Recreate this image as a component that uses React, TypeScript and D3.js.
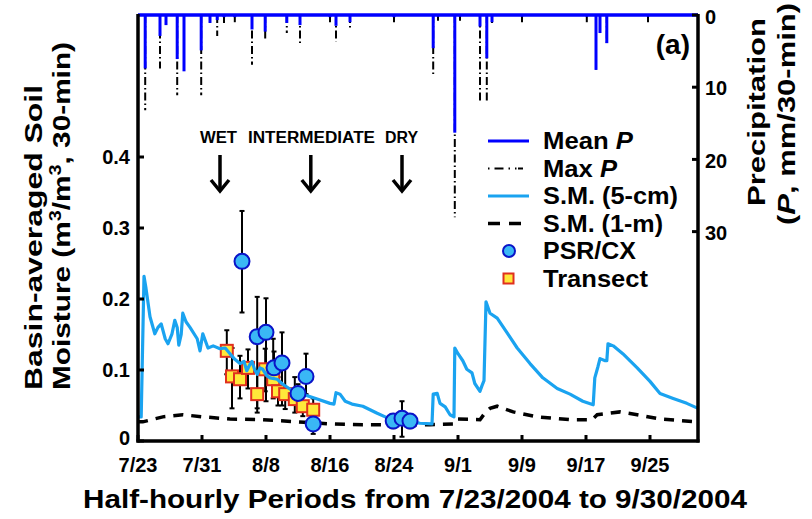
import React from 'react';
import * as d3 from 'd3';

const W = 812;
const H = 519;
const FONT = '"Liberation Sans", Arial, Helvetica, sans-serif';
const DAY = 86400000;
const T0 = new Date(Date.UTC(2004, 6, 23));
const T1 = new Date(Date.UTC(2004, 9, 1));

// Soil moisture, 5-cm: [days since 7/23 00:00, m3/m3]
const sm5cm: [number, number][] = [
  [0, 0.034], [0.4, 0.034], [0.75, 0.232], [1.0, 0.215], [1.5, 0.175], [2.1, 0.151], [2.5, 0.16],
  [2.9, 0.165], [3.4, 0.144], [3.75, 0.137], [4.25, 0.151], [4.6, 0.17], [4.9, 0.16], [5.1, 0.135],
  [5.4, 0.15], [5.6, 0.18], [6.0, 0.168], [6.5, 0.16], [7.4, 0.144], [7.75, 0.127], [8.1, 0.151],
  [8.75, 0.131], [9.4, 0.134], [10.25, 0.13], [10.9, 0.131], [11.5, 0.123], [12.1, 0.115],
  [12.75, 0.109], [13.25, 0.112], [13.6, 0.099], [14.0, 0.108], [14.25, 0.112], [14.6, 0.1],
  [14.9, 0.094], [15.25, 0.103], [15.6, 0.101], [16.1, 0.092], [16.5, 0.089], [17.4, 0.087],
  [18.1, 0.08], [19.4, 0.07], [20.6, 0.066], [22.4, 0.059], [24.0, 0.053], [24.5, 0.052],
  [24.75, 0.068], [25.25, 0.066], [25.9, 0.056], [26.75, 0.052], [28.1, 0.049], [29.0, 0.044],
  [29.9, 0.039], [30.9, 0.034], [31.5, 0.031], [32.75, 0.029], [34.4, 0.027], [35.25, 0.025],
  [36.75, 0.024], [36.9, 0.066], [37.4, 0.067], [37.75, 0.053], [38.4, 0.048], [39.0, 0.037],
  [39.5, 0.034], [39.6, 0.131], [40.0, 0.123], [40.6, 0.113], [41.1, 0.101], [41.75, 0.096],
  [42.1, 0.081], [42.75, 0.07], [43.0, 0.078], [43.25, 0.085], [43.5, 0.196], [44.0, 0.18],
  [44.9, 0.173], [46.1, 0.153], [47.4, 0.131], [49.0, 0.109], [50.6, 0.089], [52.4, 0.074],
  [54.0, 0.066], [55.6, 0.056], [56.9, 0.051], [57.1, 0.089], [57.5, 0.105], [57.75, 0.116],
  [58.4, 0.113], [58.6, 0.113], [58.75, 0.137], [59.4, 0.134], [60.6, 0.123], [62.4, 0.103],
  [64.0, 0.084], [65.25, 0.067], [66.9, 0.06], [68.6, 0.053], [70, 0.046],
];

// Soil moisture, 1-m
const sm1m: [number, number][] = [
  [0, 0.027], [0.6, 0.027], [3.1, 0.034], [5.6, 0.037], [8.1, 0.034], [11.5, 0.031], [15.6, 0.03],
  [19.9, 0.027], [24, 0.024], [28.1, 0.023], [36.5, 0.023], [39.4, 0.024], [39.75, 0.031],
  [42.75, 0.03], [43.4, 0.04], [44, 0.046], [44.9, 0.049], [46.9, 0.041], [49.9, 0.034],
  [54, 0.03], [56.75, 0.03], [57.4, 0.037], [60.25, 0.041], [62.4, 0.037], [65.25, 0.031],
  [70, 0.027],
];

// PSR/CX: [day, mean, low, high]
const psrcx: [number, number, number, number][] = [
  [13.0, 0.253, 0.181, 0.324], [14.9, 0.147, 0.046, 0.203], [16.0, 0.153, 0.056, 0.201],
  [17.0, 0.103, 0.08, 0.126], [18.0, 0.11, 0.05, 0.153], [20.0, 0.067, 0.055, 0.08],
  [21.0, 0.091, 0.066, 0.123], [21.9, 0.024, 0.01, 0.035], [31.9, 0.028, 0.018, 0.038],
  [33.0, 0.032, 0.006, 0.056], [34.0, 0.028, 0.018, 0.036],
];

// Transect: [day, mean, low, high]
const transect: [number, number, number, number][] = [
  [11.1, 0.127, 0.094, 0.156], [11.75, 0.091, 0.046, 0.131], [12.75, 0.087, 0.06, 0.12],
  [13.75, 0.103, 0.074, 0.129], [14.9, 0.066, 0.04, 0.1], [15.9, 0.101, 0.07, 0.13],
  [16.9, 0.087, 0.06, 0.144], [17.5, 0.07, 0.05, 0.09], [18.4, 0.066, 0.045, 0.11],
  [19.6, 0.059, 0.04, 0.09], [20.6, 0.049, 0.035, 0.065], [21.9, 0.044, 0.03, 0.06],
];

// Precipitation: [day, mean P, max P] (mm / 30-min)
const precip: [number, number, number][] = [
  [0.9, 7.4, 13.2], [2.75, 2.9, 7.4], [3.5, 1.4, 1.4], [4.9, 6.1, 11.1], [5.75, 7.8, 7.8],
  [7.9, 4.9, 11.1], [9.0, 1.1, 1.1], [9.9, 0.7, 2.9], [10.75, 0.3, 1.5], [12.1, 0.3, 1.0],
  [14.25, 2.0, 6.9], [15.9, 2.3, 3.5], [18.6, 1.1, 2.5], [20.25, 1.4, 3.9], [24.0, 0.3, 1.0],
  [24.75, 1.5, 3.7], [26.5, 1.0, 1.8], [32.0, 0.3, 1.0], [36.9, 4.6, 8.5], [37.5, 0.2, 0.8],
  [39.6, 16.3, 28], [40.25, 0.2, 0.8], [42.75, 1.6, 12], [43.6, 6.0, 12.2], [44.25, 1.0, 1.5],
  [48.0, 0.2, 1.0], [56.1, 0.2, 1.0], [57.25, 7.6, 7.6], [57.75, 2.5, 2.5], [58.6, 3.9, 3.9],
  [63.75, 0.2, 1.0],
];

const smTicks = [0, 0.1, 0.2, 0.3, 0.4];
const smTickLabels = ['0', '0.1', '0.2', '0.3', '0.4'];
const pTicks = [0, 10, 20, 30];
const xTickDays = [0, 8, 16, 24, 32, 40, 48, 56, 64];
const phaseLabels = ['WET', 'INTERMEDIATE', 'DRY'];
const phaseArrowDays = [10.25, 21.6, 33];

const legendItems = [
  { label: 'Mean ', ital: 'P', kind: 'meanP', len: 90 },
  { label: 'Max ', ital: 'P', kind: 'maxP', len: 74 },
  { label: 'S.M. (5-cm)', ital: '', kind: 'sm5', len: 135 },
  { label: 'S.M. (1-m)', ital: '', kind: 'sm1', len: 120 },
  { label: 'PSR/CX', ital: '', kind: 'psr', len: 93 },
  { label: 'Transect', ital: '', kind: 'tr', len: 105 },
];

const BLUE = '#0000ff';
const SMBLUE = '#1aa3f0';
const CIRC_FILL = '#3ab8f5';
const CIRC_STROKE = '#0a14c8';
const SQ_FILL = '#ffe83a';
const SQ_STROKE = '#e0301e';

export default function App() {
  const L = 138, R = 698, T = 15, B = 441;
  const x = d3.scaleUtc().domain([T0, T1]).range([L, R]);
  const xd = (d: number) => x(new Date(T0.getTime() + d * DAY));
  const y = d3.scaleLinear().domain([0, 0.6]).range([B, T]);
  const yp = d3.scaleLinear().domain([0, 59]).range([T, B]);
  const fmt = d3.utcFormat('%-m/%-d');

  const line = d3.line<[number, number]>().x((d) => xd(d[0])).y((d) => y(d[1]));

  const legX0 = 488, legX1 = 529, legTx = 543, legY0 = 141, legDy = 27.5;

  return (
    <svg width={W} height={H} style={{ position: 'absolute', left: 0, top: 0, background: '#fff' }}
      fontFamily={FONT} fontWeight="bold">
      {/* precipitation */}
      {precip.map((p, i) => (
        <line key={'mx' + i} x1={xd(p[0])} x2={xd(p[0])} y1={yp(0)} y2={yp(p[2])}
          stroke="#000" strokeWidth={2} strokeDasharray="8,3,1.5,3" />
      ))}
      {precip.map((p, i) => (
        <line key={'mn' + i} x1={xd(p[0])} x2={xd(p[0])} y1={yp(0)} y2={yp(p[1])}
          stroke={BLUE} strokeWidth={3} />
      ))}

      {/* soil moisture */}
      <path d={line(sm1m) || ''} fill="none" stroke="#000" strokeWidth={3.5} strokeDasharray="10,8" />

      {/* error bars */}
      {[...transect, ...psrcx].map((p, i) => (
        <g key={'eb' + i} stroke="#000" strokeWidth={2}>
          <line x1={xd(p[0])} x2={xd(p[0])} y1={y(p[2])} y2={y(p[3])} />
          <line x1={xd(p[0]) - 2.5} x2={xd(p[0]) + 2.5} y1={y(p[2])} y2={y(p[2])} />
          <line x1={xd(p[0]) - 2.5} x2={xd(p[0]) + 2.5} y1={y(p[3])} y2={y(p[3])} />
        </g>
      ))}
      {transect.map((p, i) => (
        <rect key={'sq' + i} x={xd(p[0]) - 6} y={y(p[1]) - 6} width={12} height={12}
          fill={SQ_FILL} stroke={SQ_STROKE} strokeWidth={2} />
      ))}
      <path d={line(sm5cm) || ''} fill="none" stroke={SMBLUE} strokeWidth={3.2} strokeLinejoin="round" />
      {psrcx.map((p, i) => (
        <circle key={'c' + i} cx={xd(p[0])} cy={y(p[1])} r={7.5}
          fill={CIRC_FILL} stroke={CIRC_STROKE} strokeWidth={2} />
      ))}

      {/* top precipitation baseline */}
      <line x1={L} x2={R} y1={yp(0)} y2={yp(0)} stroke={BLUE} strokeWidth={3.5} />

      {/* axes frame */}
      <line x1={L} x2={L} y1={T - 1} y2={B + 1.5} stroke="#000" strokeWidth={3.5} />
      <line x1={R} x2={R} y1={T - 1} y2={B + 1.5} stroke="#000" strokeWidth={3.5} />
      <line x1={L - 1.5} x2={R + 1.5} y1={B} y2={B} stroke="#000" strokeWidth={3.5} />

      {/* left ticks */}
      {smTicks.map((t, i) => (
        <g key={'lt' + i}>
          <line x1={L} x2={L + 6} y1={y(t)} y2={y(t)} stroke="#000" strokeWidth={3} />
          <text x={130} y={y(t)} dy={t === 0 ? '0.2em' : '0.36em'} textAnchor="end" fontSize={20}>{smTickLabels[i]}</text>
        </g>
      ))}
      {/* right ticks */}
      {pTicks.map((t, i) => (
        <g key={'rt' + i}>
          <line x1={R - 6} x2={R} y1={yp(t)} y2={yp(t)} stroke="#000" strokeWidth={3} />
          <text x={705} y={yp(t) + (t === 0 ? 2 : 1)} dy="0.36em" textAnchor="start" fontSize={20}>{t}</text>
        </g>
      ))}
      {/* bottom ticks */}
      {xTickDays.map((d, i) => (
        <g key={'bt' + i}>
          <line x1={xd(d)} x2={xd(d)} y1={B} y2={B - 6} stroke="#000" strokeWidth={3} />
          <text x={xd(d)} y={472} textAnchor="middle" fontSize={20}>{fmt(new Date(T0.getTime() + d * DAY))}</text>
        </g>
      ))}

      {/* axis titles */}
      <text x={83} y={508} fontSize={25} textLength={664} lengthAdjust="spacingAndGlyphs">
        Half-hourly Periods from 7/23/2004 to 9/30/2004
      </text>
      <text transform="translate(42,390) rotate(-90)" fontSize={24} textLength={305} lengthAdjust="spacingAndGlyphs">
        Basin-averaged Soil
      </text>
      <text transform="translate(70,390) rotate(-90)" fontSize={24} textLength={348} lengthAdjust="spacingAndGlyphs">
        <tspan>Moisture (m</tspan>
        <tspan dy={-9} fontSize={16}>3</tspan>
        <tspan dy={9}>/m</tspan>
        <tspan dy={-9} fontSize={16}>3</tspan>
        <tspan dy={9}>, 30-min)</tspan>
      </text>
      <text transform="translate(765,112) rotate(-90)" fontSize={24} textAnchor="middle" textLength={188} lengthAdjust="spacingAndGlyphs">
        Precipitation
      </text>
      <text transform="translate(795,114) rotate(-90)" fontSize={24} textAnchor="middle" textLength={222} lengthAdjust="spacingAndGlyphs">
        <tspan>(</tspan><tspan fontStyle="italic">P</tspan><tspan>, mm/30-min)</tspan>
      </text>

      {/* panel label */}
      <text x={690} y={54} textAnchor="end" fontSize={28}>(a)</text>

      {/* phase annotations */}
      <text x={200} y={143} fontSize={16} textLength={37} lengthAdjust="spacingAndGlyphs">{phaseLabels[0]}</text>
      <text x={248} y={143} fontSize={16} textLength={127} lengthAdjust="spacingAndGlyphs">{phaseLabels[1]}</text>
      <text x={385} y={143} fontSize={16} textLength={33} lengthAdjust="spacingAndGlyphs">{phaseLabels[2]}</text>
      {phaseArrowDays.map((d, i) => (
        <g key={'ar' + i} stroke="#000" strokeWidth={3.5} fill="none">
          <line x1={xd(d)} x2={xd(d)} y1={155} y2={190} />
          <polyline points={`${xd(d) - 9},${180} ${xd(d)},${191} ${xd(d) + 9},${180}`} strokeLinejoin="miter" />
        </g>
      ))}

      {/* legend */}
      {legendItems.map((it, i) => {
        const cy = legY0 + i * legDy;
        const mid = (legX0 + legX1) / 2;
        let glyph: React.ReactNode = null;
        if (it.kind === 'meanP') glyph = <line x1={legX0} x2={legX1} y1={cy} y2={cy} stroke={BLUE} strokeWidth={3} />;
        else if (it.kind === 'maxP') glyph = <line x1={legX0} x2={legX1} y1={cy} y2={cy} stroke="#000" strokeWidth={2} strokeDasharray="1.5,5,9,5,1.5,5,1.5" />;
        else if (it.kind === 'sm5') glyph = <line x1={legX0} x2={legX1} y1={cy} y2={cy} stroke={SMBLUE} strokeWidth={3} />;
        else if (it.kind === 'sm1') glyph = <line x1={legX0} x2={legX1} y1={cy} y2={cy} stroke="#000" strokeWidth={3.5} strokeDasharray="12,9" />;
        else if (it.kind === 'psr') glyph = <circle cx={mid + 0.5} cy={cy} r={6} fill={CIRC_FILL} stroke={CIRC_STROKE} strokeWidth={2} />;
        else glyph = <rect x={mid - 5} y={cy - 5} width={10} height={10} fill={SQ_FILL} stroke={SQ_STROKE} strokeWidth={2} />;
        return (
          <g key={'lg' + i}>
            {glyph}
            <text x={legTx} y={cy + 8} fontSize={23} textLength={it.len} lengthAdjust="spacingAndGlyphs">
              <tspan>{it.label}</tspan>
              {it.ital ? <tspan fontStyle="italic">{it.ital}</tspan> : null}
            </text>
          </g>
        );
      })}
    </svg>
  );
}
